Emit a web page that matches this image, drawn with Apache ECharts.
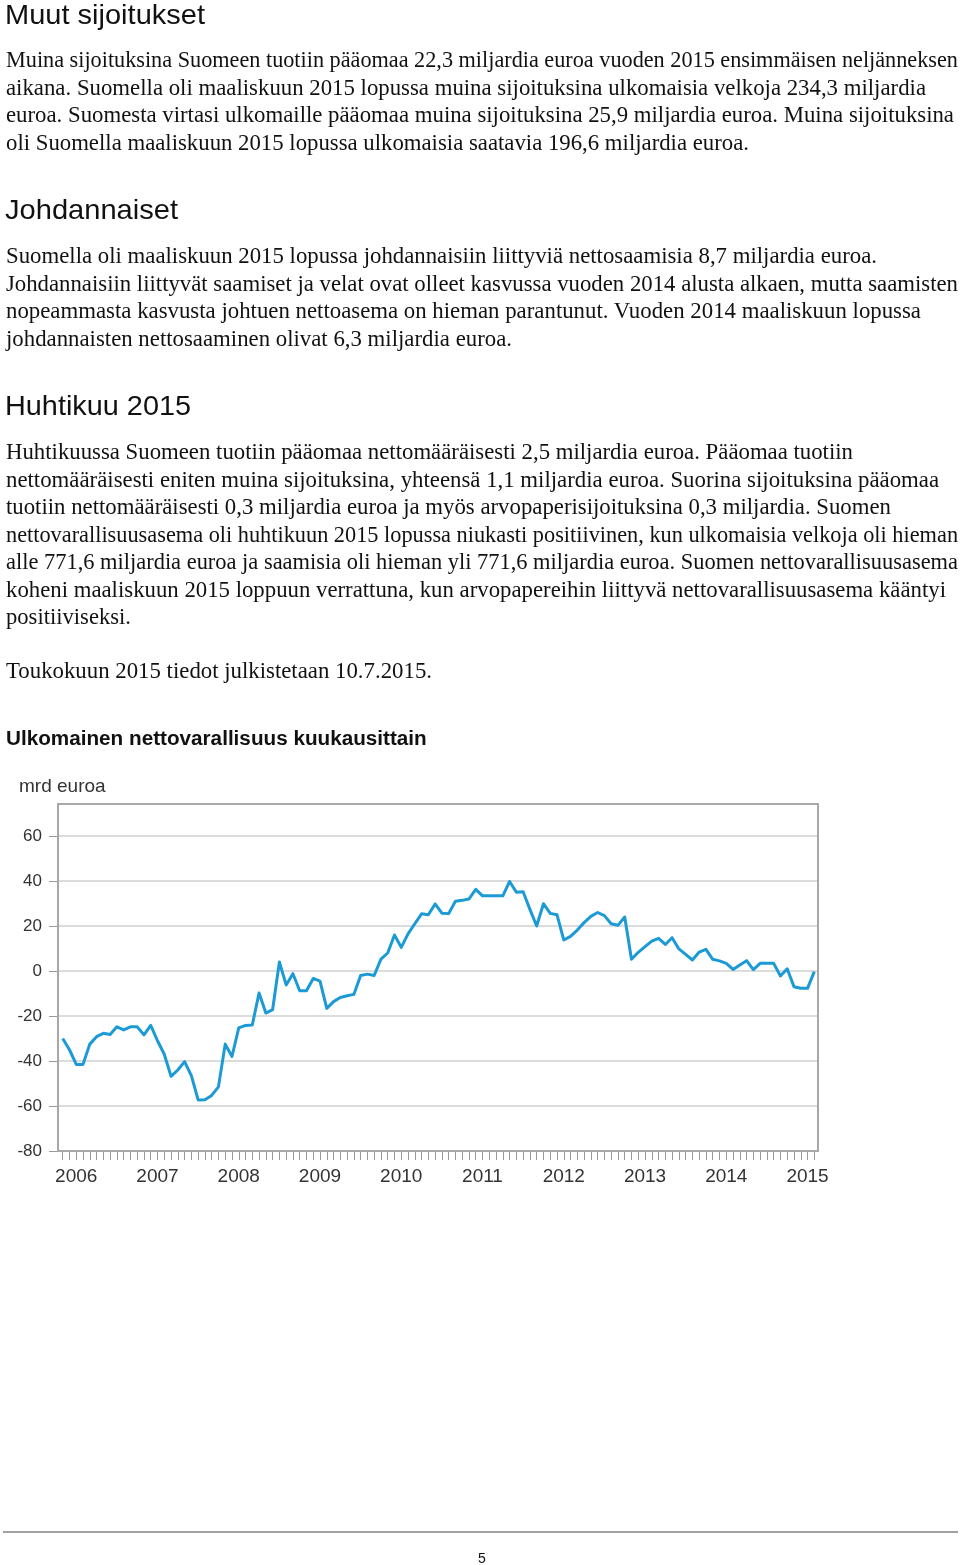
<!DOCTYPE html>
<html>
<head>
<meta charset="utf-8">
<script src="https://cdn.jsdelivr.net/npm/echarts@6/dist/echarts.min.js"></script>
<style>
  html, body { margin:0; padding:0; background:#fff; }
  body { width:960px; height:1565px; position:relative; overflow:hidden; }
  #chart { position:absolute; left:0; top:0; width:960px; height:1565px; z-index:1; }
  .t { position:absolute; white-space:nowrap; z-index:2; color:#111; transform-origin:0 50%; }
  .p { font-family:'Liberation Serif', 'Times New Roman', serif; font-size:22.2px; line-height:27.5px; left:6px; }
  .h { font-family:'Liberation Sans', Arial, sans-serif; font-size:28px; line-height:28px; left:5px; }
  .ct { font-family:'Liberation Sans', Arial, sans-serif; font-size:20.7px; line-height:20.7px; font-weight:bold; left:6px; }
  .rule { position:absolute; left:3px; top:1531px; width:955px; height:2px; background:#a0a0a0; z-index:2; }
  .pn { font-family:'Liberation Sans', Arial, sans-serif; font-size:14px; line-height:14px; left:478px; }
</style>
</head>
<body>
<div id="chart"></div>

<div class="t h" data-r="205" style="top:1.3px">Muut sijoitukset</div>
<div class="t p" data-r="958" style="top:46.3px">Muina sijoituksina Suomeen tuotiin pääomaa 22,3 miljardia euroa vuoden 2015 ensimmäisen neljänneksen</div>
<div class="t p" data-r="926" style="top:73.8px">aikana. Suomella oli maaliskuun 2015 lopussa muina sijoituksina ulkomaisia velkoja 234,3 miljardia</div>
<div class="t p" data-r="954" style="top:101.3px">euroa. Suomesta virtasi ulkomaille pääomaa muina sijoituksina 25,9 miljardia euroa. Muina sijoituksina</div>
<div class="t p" data-r="749" style="top:128.8px">oli Suomella maaliskuun 2015 lopussa ulkomaisia saatavia 196,6 miljardia euroa.</div>

<div class="t h" data-r="178" style="top:196px">Johdannaiset</div>
<div class="t p" data-r="877" style="top:242.3px">Suomella oli maaliskuun 2015 lopussa johdannaisiin liittyviä nettosaamisia 8,7 miljardia euroa.</div>
<div class="t p" data-r="958" style="top:269.8px">Johdannaisiin liittyvät saamiset ja velat ovat olleet kasvussa vuoden 2014 alusta alkaen, mutta saamisten</div>
<div class="t p" data-r="921" style="top:297.3px">nopeammasta kasvusta johtuen nettoasema on hieman parantunut. Vuoden 2014 maaliskuun lopussa</div>
<div class="t p" data-r="512" style="top:324.8px">johdannaisten nettosaaminen olivat 6,3 miljardia euroa.</div>

<div class="t h" data-r="191" style="top:392px">Huhtikuu 2015</div>
<div class="t p" data-r="853" style="top:438.3px">Huhtikuussa Suomeen tuotiin pääomaa nettomääräisesti 2,5 miljardia euroa. Pääomaa tuotiin</div>
<div class="t p" data-r="939" style="top:465.8px">nettomääräisesti eniten muina sijoituksina, yhteensä 1,1 miljardia euroa. Suorina sijoituksina pääomaa</div>
<div class="t p" data-r="891" style="top:493.3px">tuotiin nettomääräisesti 0,3 miljardia euroa ja myös arvopaperisijoituksina 0,3 miljardia. Suomen</div>
<div class="t p" data-r="958" style="top:520.8px">nettovarallisuusasema oli huhtikuun 2015 lopussa niukasti positiivinen, kun ulkomaisia velkoja oli hieman</div>
<div class="t p" data-r="958" style="top:548.3px">alle 771,6 miljardia euroa ja saamisia oli hieman yli 771,6 miljardia euroa. Suomen nettovarallisuusasema</div>
<div class="t p" data-r="946" style="top:575.8px">koheni maaliskuun 2015 loppuun verrattuna, kun arvopapereihin liittyvä nettovarallisuusasema kääntyi</div>
<div class="t p" data-r="131" style="top:603.3px">positiiviseksi.</div>

<div class="t p" data-r="432" style="top:657.3px">Toukokuun 2015 tiedot julkistetaan 10.7.2015.</div>

<div class="t ct" style="top:727.6px">Ulkomainen nettovarallisuus kuukausittain</div>

<div class="rule"></div>
<div class="t pn" style="top:1551px">5</div>

<script>
// ---- data ----
const months = [
  '2006-01','2006-02','2006-03','2006-04','2006-05','2006-06','2006-07','2006-08','2006-09','2006-10','2006-11','2006-12',
  '2007-01','2007-02','2007-03','2007-04','2007-05','2007-06','2007-07','2007-08','2007-09','2007-10','2007-11','2007-12',
  '2008-01','2008-02','2008-03','2008-04','2008-05','2008-06','2008-07','2008-08','2008-09','2008-10','2008-11','2008-12',
  '2009-01','2009-02','2009-03','2009-04','2009-05','2009-06','2009-07','2009-08','2009-09','2009-10','2009-11','2009-12',
  '2010-01','2010-02','2010-03','2010-04','2010-05','2010-06','2010-07','2010-08','2010-09','2010-10','2010-11','2010-12',
  '2011-01','2011-02','2011-03','2011-04','2011-05','2011-06','2011-07','2011-08','2011-09','2011-10','2011-11','2011-12',
  '2012-01','2012-02','2012-03','2012-04','2012-05','2012-06','2012-07','2012-08','2012-09','2012-10','2012-11','2012-12',
  '2013-01','2013-02','2013-03','2013-04','2013-05','2013-06','2013-07','2013-08','2013-09','2013-10','2013-11','2013-12',
  '2014-01','2014-02','2014-03','2014-04','2014-05','2014-06','2014-07','2014-08','2014-09','2014-10','2014-11','2014-12',
  '2015-01','2015-02','2015-03','2015-04'
];

const netPosition = [
  -30, -35, -41.5, -41.5, -32.5, -29.2, -27.7, -28.2, -24.8, -26.2,
  -24.8, -24.8, -28.4, -24.2, -31, -37, -46.8, -44, -40.3, -46.5,
  -57.3, -57.2, -55.3, -51.5, -32.5, -38, -25.3, -24.2, -24, -9.8,
  -18.7, -17.2, 4, -6.2, -1.2, -8.8, -8.8, -3.3, -4.5, -16.6,
  -13.6, -11.8, -11, -10.4, -2, -1.4, -2, 5.3, 8, 16,
  10.5, 16.5, 21, 25.4, 25, 29.8, 25.7, 25.5, 31, 31.4,
  32, 36.3, 33.4, 33.4, 33.4, 33.4, 39.8, 35, 35.2, 27.4,
  20, 29.9, 25.6, 25, 13.8, 15.4, 18.2, 21.5, 24.3, 26,
  24.6, 21, 20.3, 24, 5.2, 8.3, 10.8, 13.3, 14.5, 11.8,
  14.8, 9.8, 7.4, 4.9, 8.4, 9.6, 5.2, 4.5, 3.4, 0.7,
  2.7, 4.6, 0.6, 3.4, 3.4, 3.4, -2.2, 1, -7, -7.7,
  -7.7, -0.3
];

const yearLabels = ['2006','2007','2008','2009','2010','2011','2012','2013','2014','2015'];
const yMin = -80, yMax = 60, yStep = 20;
const unitLabel = 'mrd euroa';

// ---- fit text lines to the reference line widths ----
document.querySelectorAll('.t[data-r]').forEach(function (el) {
  const left = el.offsetLeft;
  const w = el.getBoundingClientRect().width;
  const target = parseFloat(el.getAttribute('data-r')) - left;
  if (w > 0) el.style.transform = 'scaleX(' + (target / w).toFixed(4) + ')';
});

// ---- chart ----
const chart = echarts.init(document.getElementById('chart'), null, {renderer:'canvas'});
const labelFont = 'Liberation Sans, Arial, sans-serif';
const option = {
  animation: false,
  backgroundColor: '#fff',
  grid: [
    {left: 58, top: 836, width: 760, height: 315},
    {left: 62.7, top: 836, width: 751.6, height: 315}
  ],
  xAxis: [
    {gridIndex: 0, type: 'value', min: 0, max: 1, show: false},
    {
      gridIndex: 1, type: 'category', data: months, boundaryGap: false,
      position: 'bottom',
      axisLine: {show: false, onZero: false},
      axisTick: {show: true, interval: 0, length: 9, lineStyle: {color: '#9a9a9a', width: 1}},
      axisLabel: {
        interval: function (i) { return (i - 2) % 12 === 0; },
        formatter: function (v) { const y = v.slice(0, 4); return yearLabels.indexOf(y) >= 0 ? y : ''; },
        margin: 16, color: '#333', fontSize: 19, fontFamily: labelFont
      },
      splitLine: {show: false}
    }
  ],
  yAxis: [
    {
      gridIndex: 0, type: 'value', min: yMin, max: yMax, interval: yStep,
      axisLine: {show: false},
      axisTick: {show: true, length: 9, lineStyle: {color: '#9a9a9a', width: 1}},
      axisLabel: {margin: 16, color: '#333', fontSize: 17, fontFamily: labelFont},
      splitLine: {show: true, lineStyle: {color: '#dcdcdc', width: 2}}
    },
    {gridIndex: 1, type: 'value', min: yMin, max: yMax, interval: yStep, show: false}
  ],
  series: [{
    type: 'line', xAxisIndex: 1, yAxisIndex: 1, data: netPosition,
    symbol: 'none', smooth: false,
    lineStyle: {color: '#1b9ad6', width: 3, join: 'round'},
    z: 5
  }],
  graphic: [
    {type: 'rect', shape: {x: 58, y: 804, width: 760, height: 347},
     style: {fill: 'none', stroke: '#a8a8a8', lineWidth: 2}, z: 10, silent: true},
    {type: 'text', x: 19, y: 787,
     style: {text: unitLabel, fill: '#333', font: '19px Liberation Sans, Arial, sans-serif', verticalAlign: 'middle'},
     z: 10, silent: true}
  ]
};
chart.setOption(option);
</script>
</body>
</html>
